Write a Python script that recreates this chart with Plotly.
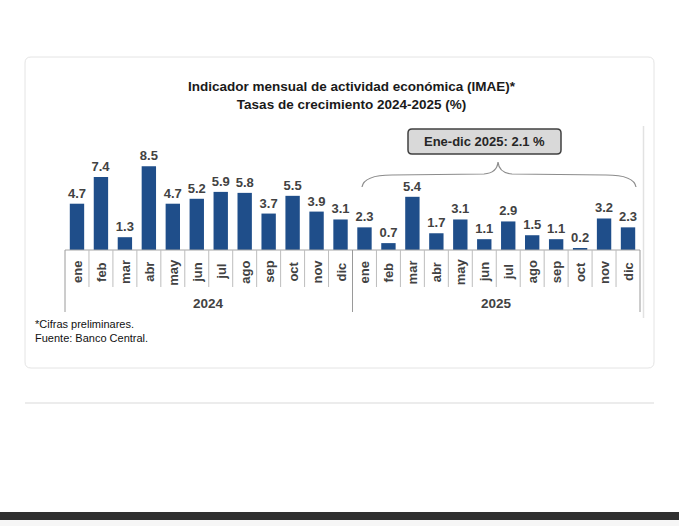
import plotly.graph_objects as go

W, H = 679, 526

months = ["ene", "feb", "mar", "abr", "may", "jun", "jul", "ago", "sep", "oct", "nov", "dic"]
years = ["2024", "2025"]
values_2024 = [4.7, 7.4, 1.3, 8.5, 4.7, 5.2, 5.9, 5.8, 3.7, 5.5, 3.9, 3.1]
values_2025 = [2.3, 0.7, 5.4, 1.7, 3.1, 1.1, 2.9, 1.5, 1.1, 0.2, 3.2, 2.3]
title_lines = ["Indicador mensual de actividad económica (IMAE)*", "Tasas de crecimiento 2024-2025 (%)"]
summary_label = "Ene-dic 2025: 2.1 %"
notes = ["*Cifras preliminares.", "Fuente: Banco Central."]

values = values_2024 + values_2025
labels = months + months
xs = list(range(len(values)))

# pixel geometry of the plot region
x_left, cell = 65.0, 575.0 / 24
base_px, ppu = 250.0, 9.85

xr0 = -(x_left + cell / 2) / cell
xr1 = xr0 + W / cell
yr1 = base_px / ppu
yr0 = -(H - base_px) / ppu

def px(x):
    return x / W

def py(y):
    return 1 - y / H

FONT = "Liberation Sans, Arial, sans-serif"
GRAY_TXT = "#424242"
BAR = "#1f4e8a"

fig = go.Figure()
fig.add_trace(go.Bar(
    x=xs, y=values, width=0.6, marker=dict(color=BAR, line=dict(width=0)),
    text=[f"{v:.1f}" for v in values], texttemplate="<b>%{text}</b>",
    textposition="outside", cliponaxis=False, constraintext="none",
    textfont=dict(family=FONT, size=13, color=GRAY_TXT),
    hoverinfo="skip",
))

shapes = []
def rounded(x0, y0, x1, y1, r):
    return (f"M {px(x0+r)} {py(y0)} L {px(x1-r)} {py(y0)} Q {px(x1)} {py(y0)} {px(x1)} {py(y0+r)} "
            f"L {px(x1)} {py(y1-r)} Q {px(x1)} {py(y1)} {px(x1-r)} {py(y1)} "
            f"L {px(x0+r)} {py(y1)} Q {px(x0)} {py(y1)} {px(x0)} {py(y1-r)} "
            f"L {px(x0)} {py(y0+r)} Q {px(x0)} {py(y0)} {px(x0+r)} {py(y0)} Z")

# card
shapes.append(dict(type="path", xref="paper", yref="paper", path=rounded(25, 57, 654, 368, 6),
                   line=dict(color="#e4e4e4", width=1), fillcolor="white", layer="below"))
# right light vertical line inside card
shapes.append(dict(type="line", xref="paper", yref="paper", x0=px(643.5), x1=px(643.5), y0=py(126), y1=py(318),
                   line=dict(color="#e2e2e2", width=1.5)))
# separator line under card
shapes.append(dict(type="line", xref="paper", yref="paper", x0=px(25), x1=px(654), y0=py(403), y1=py(403),
                   line=dict(color="#ececec", width=2)))
# bottom dark strip
shapes.append(dict(type="rect", xref="paper", yref="paper", x0=0, x1=1, y0=py(520), y1=py(512),
                   line=dict(width=0), fillcolor="#2f2f2f"))
shapes.append(dict(type="rect", xref="paper", yref="paper", x0=0, x1=1, y0=0, y1=py(520),
                   line=dict(width=0), fillcolor="#f6f6f6"))

# baseline
shapes.append(dict(type="line", xref="x", yref="y", x0=-0.5, x1=len(values) - 0.5, y0=0, y1=0,
                   line=dict(color="#a6a6a6", width=1)))
# cell separators
for i in range(len(values) + 1):
    xb = i - 0.5
    if i % 12 == 0:
        shapes.append(dict(type="line", xref="x", yref="paper", x0=xb, x1=xb, y0=py(250), y1=py(312),
                           line=dict(color="#9a9a9a", width=1)))
    else:
        shapes.append(dict(type="line", xref="x", yref="paper", x0=xb, x1=xb, y0=py(250), y1=py(287),
                           line=dict(color="#bdbdbd", width=1)))

# brace over 2025
path = (f"M {px(362)} {py(187)} Q {px(364)} {py(175)} {px(392)} {py(175)} "
        f"L {px(484)} {py(174)} Q {px(497)} {py(173)} {px(498)} {py(162)} "
        f"Q {px(499)} {py(173)} {px(512)} {py(174)} "
        f"L {px(606)} {py(175)} Q {px(634)} {py(175)} {px(636)} {py(187)}")
shapes.append(dict(type="path", xref="paper", yref="paper", path=path,
                   line=dict(color="#8c8c8c", width=1.2)))
# summary box
shapes.append(dict(type="path", xref="paper", yref="paper", path=rounded(408, 129, 561, 154, 4),
                   line=dict(color="#404040", width=1.5), fillcolor="#d9d9d9"))

annotations = []
annotations.append(dict(xref="paper", yref="paper", x=px(352), y=py(95.5), xanchor="center", yanchor="middle",
                        text="<b>" + "</b><br><b>".join(title_lines) + "</b>", showarrow=False,
                        font=dict(family=FONT, size=13.5, color="#1a1a1a")))
annotations.append(dict(xref="paper", yref="paper", x=px(484.5), y=py(141.5), xanchor="center", yanchor="middle",
                        text="<b>" + summary_label + "</b>", showarrow=False,
                        font=dict(family=FONT, size=13, color="#262626")))
for i, lab in enumerate(labels):
    annotations.append(dict(xref="x", yref="paper", x=i, y=py(272), xanchor="center", yanchor="middle",
                            text="<b>" + lab + "</b>", textangle=-90, showarrow=False,
                            font=dict(family=FONT, size=13, color=GRAY_TXT)))
for k, yr in enumerate(years):
    annotations.append(dict(xref="x", yref="paper", x=5.5 + 12 * k, y=py(303), xanchor="center", yanchor="middle",
                            text="<b>" + yr + "</b>", showarrow=False,
                            font=dict(family=FONT, size=13.5, color=GRAY_TXT)))
annotations.append(dict(xref="paper", yref="paper", x=px(33), y=py(330.5), xanchor="left", yanchor="middle",
                        text="<br>".join(notes), showarrow=False, align="left",
                        font=dict(family=FONT, size=11, color="#111111")))

fig.update_layout(
    width=W, height=H, margin=dict(l=0, r=0, t=0, b=0),
    paper_bgcolor="white", plot_bgcolor="rgba(0,0,0,0)",
    showlegend=False, bargap=0.4,
    xaxis=dict(range=[xr0, xr1], visible=False, fixedrange=True),
    yaxis=dict(range=[yr0, yr1], visible=False, fixedrange=True),
    shapes=shapes, annotations=annotations,
)
fig.write_html("out.html")
